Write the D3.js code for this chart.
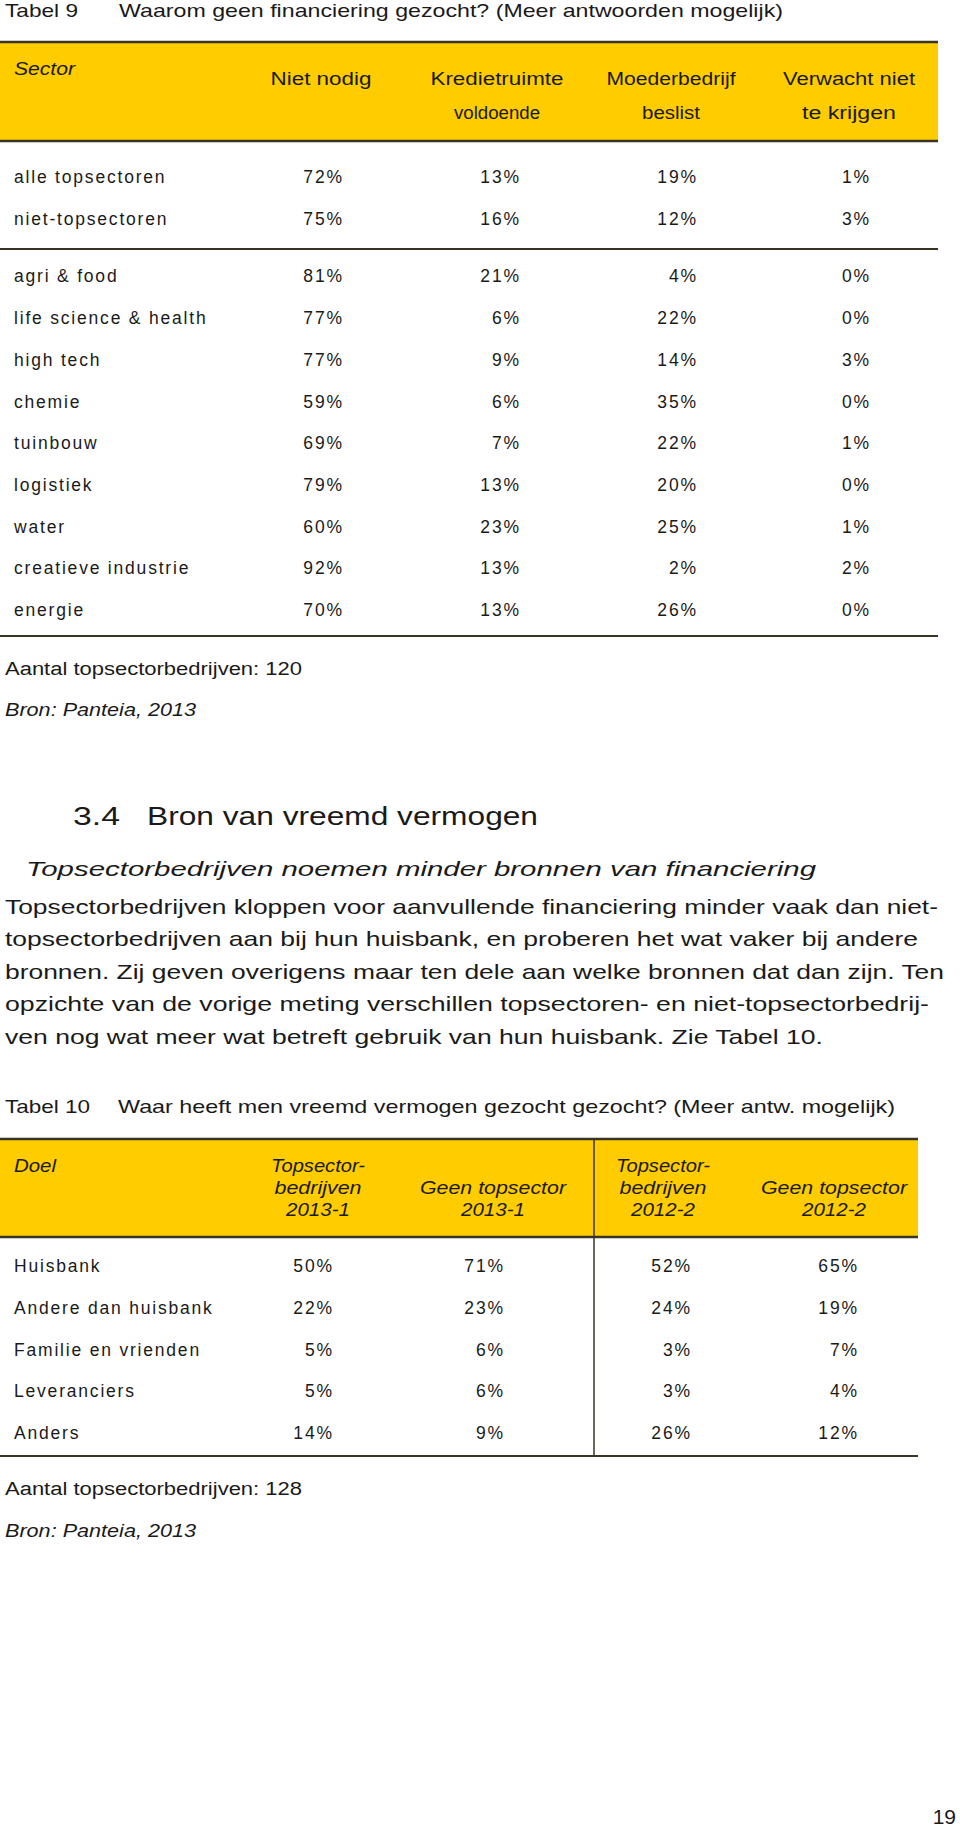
<!DOCTYPE html>
<html><head><meta charset="utf-8">
<script src="https://cdn.jsdelivr.net/npm/d3@7"></script>
<style>
html,body{margin:0;padding:0;background:#fff;}
svg text{font-family:"Liberation Sans",Arial,sans-serif;fill:#1a1a1a;}
</style></head>
<body><svg id="page" width="960" height="1826"></svg>
<script>
// ---- Table 9 data ----
const sectors9 = ["alle topsectoren","niet-topsectoren","agri & food","life science & health","high tech","chemie","tuinbouw","logistiek","water","creatieve industrie","energie"];
const nietNodig = [72,75,81,77,77,59,69,79,60,92,70];
const kredietruimte = [13,16,21,6,9,6,7,13,23,13,13];
const moederbedrijf = [19,12,4,22,14,35,22,20,25,2,26];
const verwachtNiet = [1,3,0,0,3,0,1,0,1,2,0];
const headers9 = [["Niet nodig"],["Kredietruimte","voldoende"],["Moederbedrijf","beslist"],["Verwacht niet","te krijgen"]];

// ---- Table 10 data ----
const doel = ["Huisbank","Andere dan huisbank","Familie en vrienden","Leveranciers","Anders"];
const top2013 = [50,22,5,5,14];
const geen2013 = [71,23,6,6,9];
const top2012 = [52,24,3,3,26];
const geen2012 = [65,19,7,4,12];
const headers10 = [["Topsector-","bedrijven","2013-1"],["","Geen topsector","2013-1"],["Topsector-","bedrijven","2012-2"],["","Geen topsector","2012-2"]];

const svg = d3.select("#page");
const YEL = "#FFCC00", LINE = "#3a3424";

function txt(x, y, s, o={}) {
  const t = svg.append("text").attr("x", x).attr("y", y).attr("dominant-baseline","central")
    .style("font-size", (o.size||18)+"px").text(s);
  if (o.anchor) t.attr("text-anchor", o.anchor);
  if (o.italic) t.style("font-style","italic");
  if (o.ls !== undefined) t.style("letter-spacing", o.ls+"px");
  if (o.w) t.attr("textLength", o.w).attr("lengthAdjust","spacingAndGlyphs");
  return t;
}
function hline(x1, x2, y, w) {
  svg.append("line").attr("x1",x1).attr("x2",x2).attr("y1",y).attr("y2",y)
    .attr("stroke",LINE).attr("stroke-width",w||2);
}

// ================= TABLE 9 =================
txt(5, 10, "Tabel 9", {w:73, size:19});
txt(119, 10, "Waarom geen financiering gezocht? (Meer antwoorden mogelijk)", {w:664, size:19});

svg.append("rect").attr("x",0).attr("y",42).attr("width",938).attr("height",99).attr("fill",YEL);
hline(0, 938, 42, 2.5);
hline(0, 938, 141, 2.5);

txt(14, 69, "Sector", {italic:true, w:61});
const colCenters9 = [321, 497, 671, 849];
const hdrW9 = [[101],[133,86],[129,58],[132,94]];
headers9.forEach((h,i)=>{
  h.forEach((s,j)=>{
    txt(colCenters9[i], j===0?79:113, s, {anchor:"middle", w:hdrW9[i][j]});
  });
});

const cols9 = [nietNodig, kredietruimte, moederbedrijf, verwachtNiet];
const xRight9 = d3.scaleOrdinal().domain([0,1,2,3]).range([342, 519, 696, 869]);
const rowIdx = d3.scaleLinear().domain([0,10]).range([177, 594]);
const y9 = (i) => rowIdx(i) + (i >= 2 ? 16 : 0);

sectors9.forEach((s,i)=>{
  txt(14, y9(i), s, {ls:1.8, size:17.5});
  cols9.forEach((col,c)=>{
    txt(xRight9(c)+1.8, y9(i), col[i]+"%", {anchor:"end", ls:1.8, size:17.5});
  });
});
hline(0, 938, 249, 2);
hline(0, 938, 636, 2);

txt(5, 669, "Aantal topsectorbedrijven: 120", {w:297});
txt(5, 710, "Bron: Panteia, 2013", {italic:true, w:191});

// ================= Section 3.4 =================
txt(73, 816, "3.4", {size:26, w:47});
txt(147, 816, "Bron van vreemd vermogen", {size:26, w:391});
txt(26, 868, "Topsectorbedrijven noemen minder bronnen van financiering", {size:21, italic:true, w:790});
const body = [
  ["Topsectorbedrijven kloppen voor aanvullende financiering minder vaak dan niet-", 933],
  ["topsectorbedrijven aan bij hun huisbank, en proberen het wat vaker bij andere", 913],
  ["bronnen. Zij geven overigens maar ten dele aan welke bronnen dat dan zijn. Ten", 939],
  ["opzichte van de vorige meting verschillen topsectoren- en niet-topsectorbedrij-", 924],
  ["ven nog wat meer wat betreft gebruik van hun huisbank. Zie Tabel 10.", 818]
];
const bodyY = d3.scaleLinear().domain([0,4]).range([906, 1036]);
body.forEach((b,i)=> txt(5, bodyY(i), b[0], {size:21, w:b[1]}));

// ================= TABLE 10 =================
txt(5, 1106, "Tabel 10", {w:85, size:19});
txt(118, 1106, "Waar heeft men vreemd vermogen gezocht gezocht? (Meer antw. mogelijk)", {w:777, size:19});

svg.append("rect").attr("x",0).attr("y",1139).attr("width",918).attr("height",98).attr("fill",YEL);
hline(0, 918, 1139, 2.5);
hline(0, 918, 1237, 2.5);
svg.append("line").attr("x1",594).attr("x2",594).attr("y1",1139).attr("y2",1456)
  .attr("stroke",LINE).attr("stroke-width",1.5);

txt(14, 1166, "Doel", {italic:true, w:42});
const colCenters10 = [318, 493, 663, 834];
const hdrW10 = [[94,87,64],[0,146,64],[94,87,64],[0,146,64]];
const hdrY10 = [1166, 1188, 1210];
headers10.forEach((h,i)=>{
  h.forEach((s,j)=>{
    if (s) txt(colCenters10[i], hdrY10[j], s, {anchor:"middle", italic:true, w:hdrW10[i][j]});
  });
});

const cols10 = [top2013, geen2013, top2012, geen2012];
const xRight10 = d3.scaleOrdinal().domain([0,1,2,3]).range([332, 503, 690, 857]);
const y10 = d3.scalePoint().domain(doel).range([1266, 1433]);
doel.forEach((s,i)=>{
  txt(14, y10(s), s, {ls:1.8, size:17.5});
  cols10.forEach((col,c)=>{
    txt(xRight10(c)+1.8, y10(s), col[i]+"%", {anchor:"end", ls:1.8, size:17.5});
  });
});
hline(0, 918, 1456, 2);

txt(5, 1489, "Aantal topsectorbedrijven: 128", {w:297});
txt(5, 1531, "Bron: Panteia, 2013", {italic:true, w:191});

// page number
txt(956, 1816, "19", {anchor:"end", size:21});
</script>
</body></html>
